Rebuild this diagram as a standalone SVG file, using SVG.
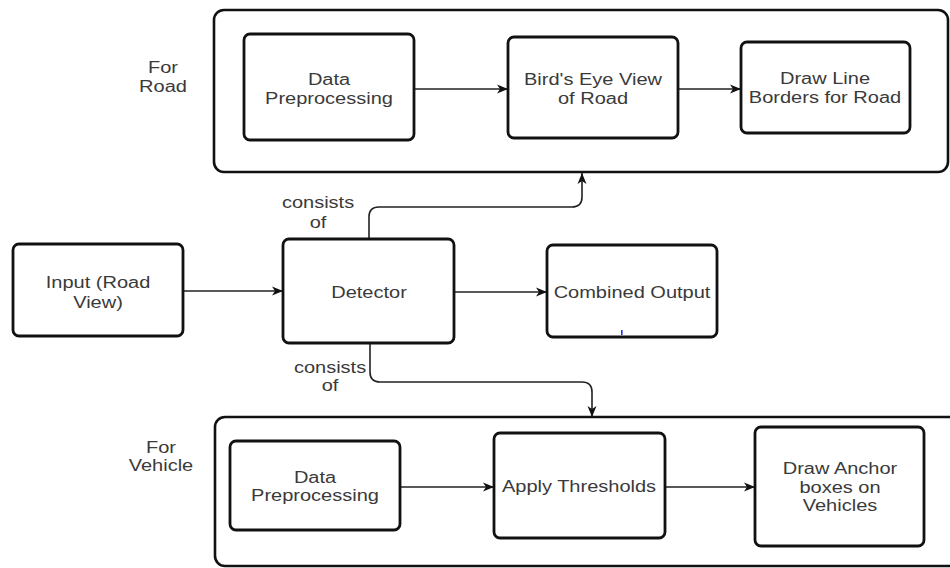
<svg xmlns="http://www.w3.org/2000/svg" width="950" height="568" viewBox="0 0 950 568">
  <style>
    .container { fill: none; stroke: #111; stroke-width: 2.6; }
    .box { fill: #fff; stroke: #111; stroke-width: 2.8; }
    .t { font-family: "Liberation Sans", Arial, sans-serif; font-size: 16px; fill: #3a3a3a; text-anchor: middle; }
    .conn { fill: none; stroke: #222; stroke-width: 1.6; }
  </style>
  <defs>
    <marker id="arr" markerUnits="userSpaceOnUse" markerWidth="12" markerHeight="10" viewBox="0 0 12 10" refX="11" refY="5" orient="auto">
      <path d="M0,0.5 L11,5 L0,9.5 L3,5 Z" fill="#111"/>
    </marker>
  </defs>
  <rect width="950" height="568" fill="#fff"/>

  <g id="road-group">
    <rect class="container" x="214" y="10" width="734" height="162" rx="10"/>
    <text class="t" transform="translate(163,0) scale(1.25,1)"><tspan x="0" y="73">For</tspan><tspan x="0" y="92">Road</tspan></text>
  </g>
  <g id="vehicle-group">
    <rect class="container" x="215" y="417" width="745" height="149" rx="10"/>
    <text class="t" transform="translate(161,0) scale(1.25,1)"><tspan x="0" y="453">For</tspan><tspan x="0" y="471">Vehicle</tspan></text>
  </g>

  <g id="connectors">
    <path class="conn" d="M183,291 H283" marker-end="url(#arr)"/>
    <path class="conn" d="M454,292 H547" marker-end="url(#arr)"/>
    <path class="conn" d="M414,89 H508" marker-end="url(#arr)"/>
    <path class="conn" d="M678,89 H741" marker-end="url(#arr)"/>
    <path class="conn" d="M400,487 H494" marker-end="url(#arr)"/>
    <path class="conn" d="M665,487 H755" marker-end="url(#arr)"/>
    <path class="conn" d="M369,239 V217 Q369,207 379,207 H572 Q582,207 582,197 V173" marker-end="url(#arr)"/>
    <path class="conn" d="M370,343 V372 Q370,382 380,382 H582 Q592,382 592,392 V417" marker-end="url(#arr)"/>
    <text class="t" transform="translate(318,0) scale(1.25,1)"><tspan x="0" y="208">consists</tspan><tspan x="0" y="228">of</tspan></text>
    <text class="t" transform="translate(330,0) scale(1.25,1)"><tspan x="0" y="373">consists</tspan><tspan x="0" y="391">of</tspan></text>
  </g>

  <g id="road-preprocessing">
    <rect class="box" x="244" y="34" width="170" height="106" rx="6"/>
    <text class="t" transform="translate(329,0) scale(1.25,1)"><tspan x="0" y="85">Data</tspan><tspan x="0" y="104">Preprocessing</tspan></text>
  </g>
  <g id="birds-eye">
    <rect class="box" x="508" y="37" width="170" height="101" rx="6"/>
    <text class="t" transform="translate(593,0) scale(1.25,1)"><tspan x="0" y="85">Bird's Eye View</tspan><tspan x="0" y="104">of Road</tspan></text>
  </g>
  <g id="draw-line-borders">
    <rect class="box" x="741" y="42" width="169" height="91" rx="6"/>
    <text class="t" transform="translate(825,0) scale(1.25,1)"><tspan x="0" y="84">Draw Line</tspan><tspan x="0" y="103">Borders for Road</tspan></text>
  </g>
  <g id="input">
    <rect class="box" x="13" y="244" width="170" height="92" rx="6"/>
    <text class="t" transform="translate(98,0) scale(1.25,1)"><tspan x="0" y="288">Input (Road</tspan><tspan x="0" y="308">View)</tspan></text>
  </g>
  <g id="detector">
    <rect class="box" x="283" y="239" width="171" height="104" rx="6"/>
    <text class="t" transform="translate(369,0) scale(1.25,1)"><tspan x="0" y="298">Detector</tspan></text>
  </g>
  <g id="combined-output">
    <rect class="box" x="547" y="245" width="170" height="92" rx="6"/>
    <text class="t" transform="translate(632,0) scale(1.25,1)"><tspan x="0" y="298">Combined Output</tspan></text>
    <rect x="621" y="330" width="1.6" height="5" fill="#2233ee"/>
  </g>
  <g id="vehicle-preprocessing">
    <rect class="box" x="230" y="441" width="170" height="89" rx="6"/>
    <text class="t" transform="translate(315,0) scale(1.25,1)"><tspan x="0" y="483">Data</tspan><tspan x="0" y="501">Preprocessing</tspan></text>
  </g>
  <g id="apply-thresholds">
    <rect class="box" x="494" y="433" width="171" height="105" rx="6"/>
    <text class="t" transform="translate(579,0) scale(1.25,1)"><tspan x="0" y="492">Apply Thresholds</tspan></text>
  </g>
  <g id="draw-anchor-boxes">
    <rect class="box" x="755" y="427" width="169" height="119" rx="6"/>
    <text class="t" transform="translate(840,0) scale(1.25,1)"><tspan x="0" y="474">Draw Anchor</tspan><tspan x="0" y="493">boxes on</tspan><tspan x="0" y="511">Vehicles</tspan></text>
  </g>
</svg>
